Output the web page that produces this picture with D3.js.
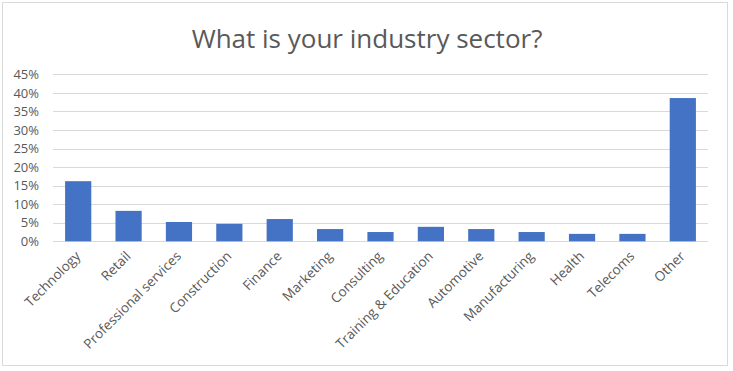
<!DOCTYPE html>
<html><head><meta charset="utf-8">
<script src="https://cdn.jsdelivr.net/npm/d3@7"></script>
<style>body{margin:0;background:#fff;} svg{display:block;}</style>
</head><body>
<svg id="c" width="733" height="371"></svg>
<script>
const categories = ["Technology","Retail","Professional services","Construction","Finance","Marketing","Consulting","Training & Education","Automotive","Manufacturing","Health","Telecoms","Other"];
const values = [0.162,0.082,0.052,0.047,0.060,0.033,0.025,0.039,0.033,0.025,0.020,0.020,0.386];
const tickValues = [0,0.05,0.10,0.15,0.20,0.25,0.30,0.35,0.40,0.45];
const title = "What is your industry sector?";

const svg = d3.select("#c");
const font = "'Open Sans', sans-serif";
const txt = "#595959";
svg.append("rect").attr("x",2.5).attr("y",2.5).attr("width",725).attr("height",363)
  .attr("fill","#fff").attr("stroke","#d9d9d9");

const x = d3.scaleBand().domain(categories).range([53,708]).paddingInner(0.48).paddingOuter(0.24);
const y = d3.scaleLinear().domain([0,0.45]).range([241.3,74.3]);

svg.append("g").selectAll("line").data(tickValues).join("line")
  .attr("x1",53).attr("x2",708).attr("y1",d=>Math.round(y(d))+0.5).attr("y2",d=>Math.round(y(d))+0.5)
  .attr("stroke","#d9d9d9").attr("stroke-width",1);

svg.append("g").selectAll("rect").data(values).join("rect")
  .attr("x",(d,i)=>x(categories[i])).attr("width",x.bandwidth())
  .attr("y",d=>y(d)).attr("height",d=>y(0)-y(d)).attr("fill","#4472c4");

const yAxis = d3.axisLeft(y).tickValues(tickValues).tickFormat(d3.format(".0%")).tickSize(0).tickPadding(0);
const ga = svg.append("g").attr("transform","translate(39,0)").call(yAxis);
ga.select(".domain").remove();
ga.selectAll("text").attr("font-family",font).attr("font-size",13).attr("fill",txt);

const xAxis = d3.axisBottom(x).tickSize(0).tickPadding(0);
const gx = svg.append("g").attr("transform","translate(0,241)").call(xAxis);
gx.select(".domain").remove();
gx.selectAll("text").attr("font-family",font).attr("font-size",13.5).attr("fill",txt)
  .attr("text-anchor","end").attr("dy",null).attr("y",0)
  .attr("transform","translate(3,16) rotate(-45)");

svg.append("text").attr("x",367).attr("y",48).attr("text-anchor","middle")
  .attr("font-family",font).attr("font-size",26).attr("fill",txt).text(title);
</script>
</body></html>
